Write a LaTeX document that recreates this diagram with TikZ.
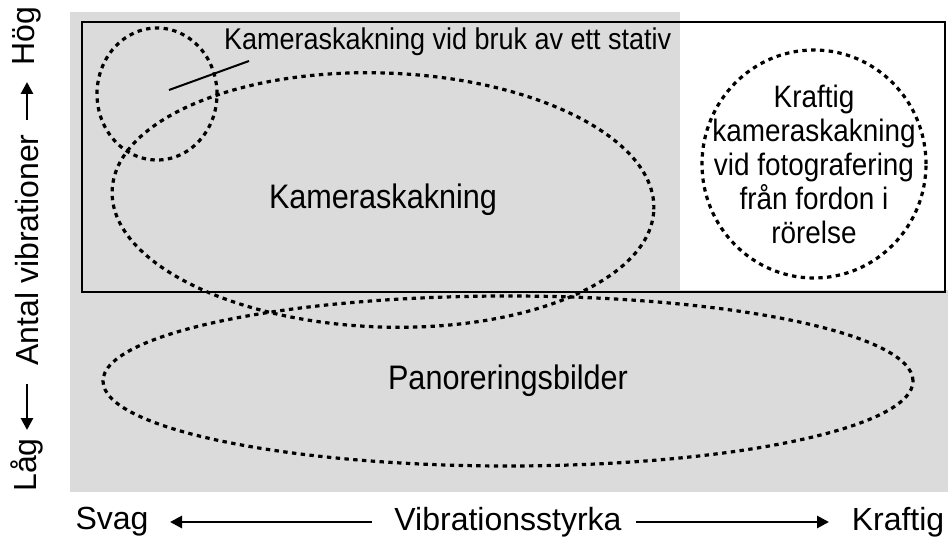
\documentclass[tikz,border=0pt]{standalone}
\usepackage{fontspec}
\setmainfont{Liberation Sans}
\newfontfamily\narrowfont[FakeStretch=0.9]{Liberation Sans}
\usetikzlibrary{shapes.geometric, arrows.meta, positioning}

\begin{document}
\begin{tikzpicture}[
 x=0.5pt, y=-0.5pt,
 zone/.style={ellipse, draw, line width=1.6pt, dash pattern=on 2.2pt off 2.2pt, inner sep=0pt},
 lbl/.style={font=\narrowfont\fontsize{17}{17}\selectfont, align=center},
 axis/.style={font=\fontsize{16}{18}\selectfont, inner sep=1pt},
 axarrow/.style={line width=1.4pt, -{Triangle[length=6pt, width=6pt]}}
]
 \useasboundingbox (0,0) rectangle (948,545);
 % background fields
 \fill[black!14] (70,12) rectangle (948,492);
 \fill[white] (680,12) rectangle (948,290);
 \draw[line width=1.2pt] (82,22) rectangle (945,292);

 % vibration zones (sizes in pt = half the pixel size)
 \node[zone, minimum width=60pt, minimum height=66pt] (tripod) at (157,94) {};
 \node[zone, minimum width=271pt, minimum height=127pt, rotate=-2] (shake) at (383,200) {};
 \node[zone, minimum width=112pt, minimum height=114pt] (vehicle) at (814,164) {};
 \node[zone, minimum width=405pt, minimum height=85pt] (pan) at (508,381) {};

 % labels
 \node[lbl, anchor=west, font=\narrowfont\fontsize{15}{17}\selectfont] (tripodtxt) at (217,42) {Kameraskakning vid bruk av ett stativ};
 \coordinate (tripodend) at (249,61);
 \draw[line width=1pt] (169,90) -- (tripodend);
 \node[lbl] at (shake.center) {Kameraskakning};
 \node[lbl, font=\narrowfont\fontsize{15.5}{17}\selectfont] at (vehicle.center) {Kraftig\\kameraskakning\\vid fotografering\\från fordon i\\rörelse};
 \node[lbl] at (pan.center) {Panoreringsbilder};

 % horizontal axis
 \node[axis] (weak) at (112,522) {Svag};
 \node[axis] (strength) at (508,522) {Vibrationsstyrka};
 \node[axis] (strong) at (898,522) {Kraftig};
 \draw[axarrow] (strength.west) ++(-20,0) -- (170,522);
 \draw[axarrow] (strength.east) ++(12,0) -- (829,522);

 % vertical axis
 \node[axis, rotate=90] (low) at (27,465) {Låg};
 \node[axis, rotate=90] (count) at (27,250) {Antal vibrationer};
 \node[axis, rotate=90] (high) at (27,36) {Hög};
 \draw[axarrow] (27,120) -- (27,82);
 \draw[axarrow] (27,384) -- (27,430);
\end{tikzpicture}
\end{document}
